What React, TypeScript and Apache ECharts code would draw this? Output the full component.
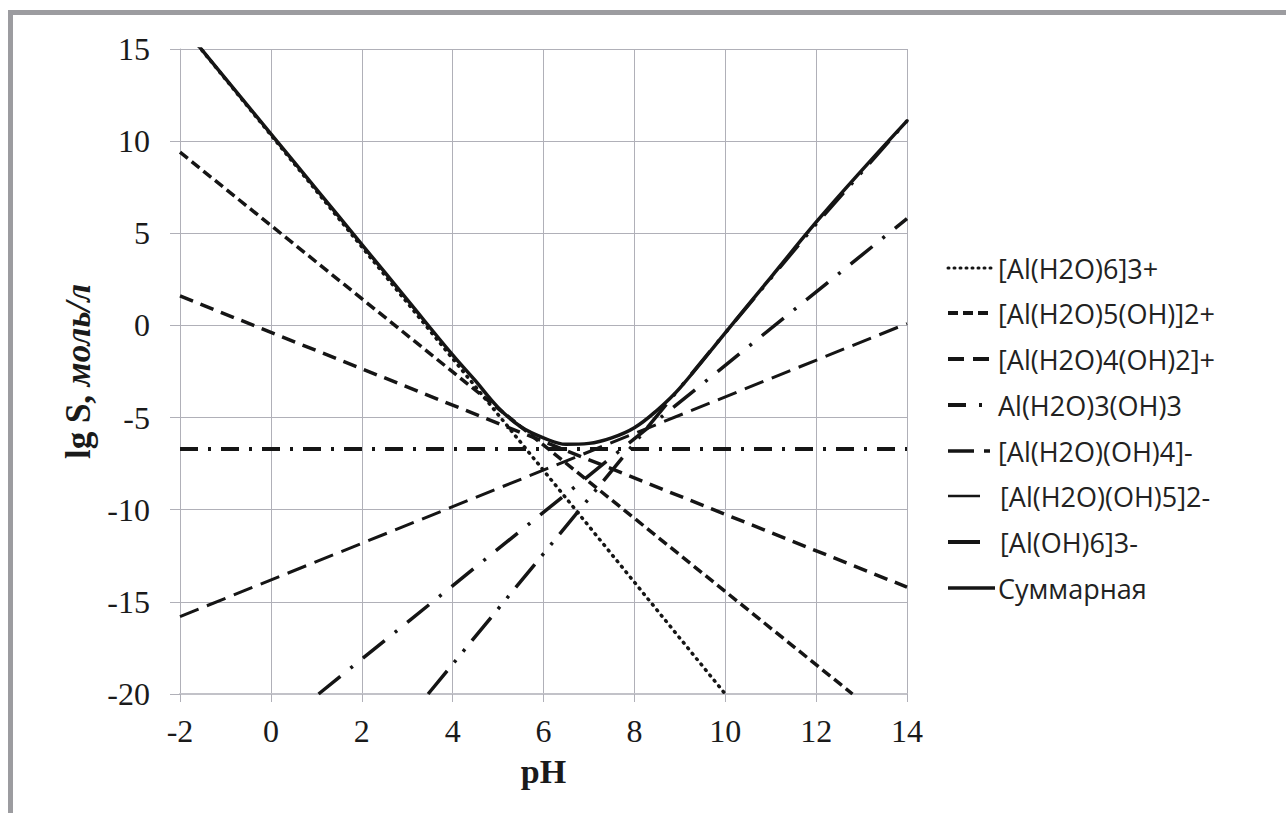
import React, { useEffect, useRef } from "react";
import * as echarts from "echarts";

// pH ticks
const xTicks = [-2, 0, 2, 4, 6, 8, 10, 12, 14];
const yTicks = [-20, -15, -10, -5, 0, 5, 10, 15];

// Species lines [pH, lg S]
const al3: [number, number][] = [[-2, 16.4], [10, -20.0]];
const alOH: [number, number][] = [[-2, 9.4], [12.8, -20.0]];
const alOH2: [number, number][] = [[-2, 1.6], [14, -14.2]];
const alOH3: [number, number][] = [[-2, -6.7], [14, -6.7]];
const alOH4: [number, number][] = [[-2, -15.8], [14, 0.1]];
const alOH5: [number, number][] = [[1.05, -20.0], [14, 5.8]];
const alOH6: [number, number][] = [[3.46, -20.0], [10, -0.4], [12, 5.5], [14, 11.1]];
const total: [number, number][] = [
  [-2, 16.4], [0, 10.4], [1, 7.4], [2, 4.4], [3, 1.4], [4, -1.6], [4.5, -3.0],
  [5, -4.45], [5.5, -5.5], [6, -6.1], [6.5, -6.45], [7, -6.4], [7.5, -6.1],
  [8, -5.55], [8.5, -4.6], [9, -3.4], [10, -0.4], [11, 2.6], [12, 5.6],
  [13, 8.4], [14, 11.1],
];

const names = [
  "[Al(H2O)6]3+",
  "[Al(H2O)5(OH)]2+",
  "[Al(H2O)4(OH)2]+",
  "Al(H2O)3(OH)3",
  "[Al(H2O)(OH)4]-",
  "[Al(H2O)(OH)5]2-",
  "[Al(OH)6]3-",
  "Суммарная",
];

const INK = "#151515";

export default function App() {
  const ref = useRef<HTMLDivElement>(null);
  useEffect(() => {
    if (!ref.current) return;
    const chart = echarts.init(ref.current, null, { renderer: "svg" });
    const mk = (name: string, data: [number, number][], width: number, type: any, cap = "butt", smooth: any = false) => ({
      name,
      type: "line",
      data,
      showSymbol: false,
      symbol: "none",
      smooth,
      clip: true,
      lineStyle: { color: INK, width, type, cap },
      z: 3,
    });

    const legendY = [268, 313, 359, 405, 451, 496, 542, 588];
    const legX1 = 948;
    const textX = 998;
    const icons: any[] = [
      { x2: 993, w: 3, dash: [1, 5], cap: "round" },
      { x2: 993, w: 4, dash: [10, 5] },
      { x2: 993, w: 4, dash: [16, 9] },
      { x2: 985, w: 4, dash: [18, 13, 3, 20] },
      { x2: 990, w: 3.5, dash: [26, 10, 6, 20] },
      { x2: 980, w: 2.5, dash: null },
      { x2: 980, w: 4, dash: null },
      { x2: 995, w: 3.5, dash: null },
    ];
    const legend: any[] = [];
    names.forEach((n, i) => {
      const ic = icons[i];
      legend.push({
        type: "line",
        shape: { x1: legX1, y1: legendY[i], x2: ic.x2, y2: legendY[i] },
        style: { stroke: INK, lineWidth: ic.w, lineDash: ic.dash || undefined, lineCap: ic.cap || "butt" },
      });
      legend.push({
        type: "text",
        x: i >= 5 && i < 7 ? textX + 2 : textX,
        y: legendY[i],
        style: {
          text: n,
          font: '27px "Open Sans", "Noto Sans", sans-serif',
          fill: "#222",
          verticalAlign: "middle",
          align: "left",
        },
      });
    });

    chart.setOption({
      animation: false,
      backgroundColor: "#fff",
      grid: { left: 180, right: 379, top: 49, bottom: 119, containLabel: false },
      xAxis: {
        type: "value",
        min: -2,
        max: 14,
        interval: 2,
        name: "pH",
        nameLocation: "middle",
        nameGap: 60,
        nameTextStyle: { fontFamily: '"Liberation Serif", serif', fontWeight: "bold", fontSize: 34, color: "#1a1a1a" },
        axisLine: { show: true, onZero: false, lineStyle: { color: "#c2c2c8", width: 2 } },
        axisTick: { show: true, length: 8, lineStyle: { color: "#b0b0b8" } },
        splitLine: { show: true, lineStyle: { color: "#b0b0b8", width: 1 } },
        axisLabel: {
          fontFamily: '"Liberation Serif", serif',
          fontSize: 32,
          color: "#1a1a1a",
          margin: 21,
          formatter: (v: number) => (xTicks.includes(v) ? String(v) : ""),
        },
      },
      yAxis: {
        type: "value",
        min: -20,
        max: 15,
        interval: 5,
        name: "{a|lg S, }{b|моль/л}",
        nameLocation: "middle",
        nameGap: 75,
        nameRotate: 90,
        nameTextStyle: {
          rich: {
            a: { fontFamily: '"Liberation Serif", serif', fontWeight: "bold", fontSize: 35, color: "#1a1a1a" },
            b: { fontFamily: '"Liberation Serif", serif', fontWeight: "bold", fontStyle: "italic", fontSize: 35, color: "#1a1a1a" },
          },
        },
        axisLine: { show: true, onZero: false, lineStyle: { color: "#b0b0b8", width: 1 } },
        axisTick: { show: true, length: 10, lineStyle: { color: "#b0b0b8" } },
        splitLine: { show: true, lineStyle: { color: "#b0b0b8", width: 1 } },
        axisLabel: {
          fontFamily: '"Liberation Serif", serif',
          fontSize: 32,
          color: "#1a1a1a",
          margin: 30,
          formatter: (v: number) => (yTicks.includes(v) ? String(v) : ""),
        },
      },
      series: [
        mk(names[0], al3, 3.5, [1, 6], "round"),
        mk(names[1], alOH, 3.5, [10, 5]),
        mk(names[2], alOH2, 3.5, [14, 8]),
        mk(names[3], alOH3, 4, [18, 10, 3, 10]),
        mk(names[4], alOH4, 3, [20, 9]),
        mk(names[5], alOH5, 3.5, [28, 13, 3, 13]),
        mk(names[6], alOH6, 3.5, [30, 11, 3, 11, 3, 11]),
        mk(names[7], total, 3.5, "solid", "round", 0.4),
      ],
      graphic: [
        { type: "rect", shape: { x: 8, y: 10, width: 1278, height: 5 }, style: { fill: "#9c9ca0" }, z: 10 },
        { type: "rect", shape: { x: 8, y: 10, width: 5, height: 803 }, style: { fill: "#9c9ca0" }, z: 10 },
        ...legend,
      ],
    });
    return () => chart.dispose();
  }, []);
  return (
    <div
      ref={ref}
      style={{ position: "fixed", left: 0, top: 0, width: 1286, height: 813, background: "#fff" }}
    />
  );
}
